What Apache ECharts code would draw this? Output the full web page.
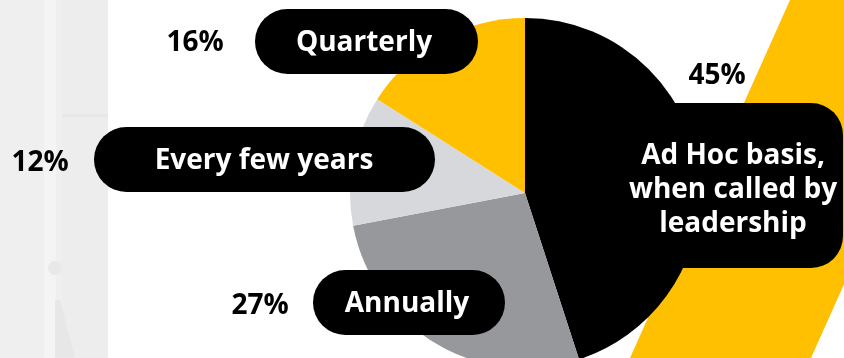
<!DOCTYPE html>
<html>
<head>
<meta charset="utf-8">
<style>
  html, body { margin: 0; padding: 0; background: #fff; }
  #chart { width: 844px; height: 358px; }
</style>
<script src="https://cdn.jsdelivr.net/npm/echarts@6/dist/echarts.min.js"></script>
</head>
<body>
<div id="chart"></div>
<script>
  // data
  var categories = ['Ad Hoc basis,\nwhen called by\nleadership', 'Annually', 'Every few years', 'Quarterly'];
  var values = [45, 27, 12, 16];
  var colors = ['#000000', '#97989b', '#d7d8db', '#fec000'];

  // where each pill / percentage sits
  var pills = {
    'Annually':        {x: 313, y: 270, w: 192, tx: 407, tyy: 304, px: 260, py: 306},
    'Every few years': {x: 94,  y: 127, w: 341, tx: 264, tyy: 161, px: 40,  py: 163},
    'Quarterly':       {x: 255, y: 9,   w: 223, tx: 364, tyy: 43,  px: 195, py: 43}
  };

  var font = 'bold 28px "Open Sans"';
  var chart = echarts.init(document.getElementById('chart'));

  var graphics = [
    // grey photo strip on the left
    {type: 'rect', z: -10, shape: {x: 0, y: 0, width: 108, height: 358}, style: {fill: '#efefef'}},
    {type: 'rect', z: -9, shape: {x: 44, y: 0, width: 12, height: 358}, style: {fill: '#f4f4f4'}},
    {type: 'rect', z: -9, shape: {x: 62, y: 0, width: 46, height: 358}, style: {fill: '#ededed'}},
    {type: 'rect', z: -8, shape: {x: 62, y: 114, width: 46, height: 3}, style: {fill: '#e7e7e7'}},
    {type: 'circle', z: -8, shape: {cx: 55, cy: 268, r: 7}, style: {fill: '#e8e8e8'}},
    {type: 'polygon', z: -8, shape: {points: [[55, 300], [60, 300], [75, 358], [55, 358]]}, style: {fill: '#e7e7e7'}},
    // yellow diagonal band behind the pie
    {type: 'polygon', z: -5, shape: {points: [[790, 0], [971, 0], [811, 358], [630, 358]]}, style: {fill: '#fec000'}},
    // box for the biggest slice
    {type: 'rect', z: 10, shape: {x: 600, y: 103, width: 243, height: 165, r: [0, 32, 32, 0]}, style: {fill: '#000'}},
    {type: 'text', z: 11, x: 733, y: 190, style: {
      text: categories[0], font: font, fill: '#fff', lineHeight: 34,
      textAlign: 'center', textVerticalAlign: 'middle'}},
    {type: 'text', z: 11, x: 717, y: 76, style: {
      text: values[0] + '%', font: font, fill: '#000',
      textAlign: 'center', textVerticalAlign: 'middle'}}
  ];

  for (var i = 1; i < categories.length; i++) {
    var p = pills[categories[i]];
    graphics.push(
      {type: 'rect', z: 10, shape: {x: p.x, y: p.y, width: p.w, height: 65, r: 32.5}, style: {fill: '#000'}},
      {type: 'text', z: 11, x: p.tx, y: p.tyy, style: {
        text: categories[i], font: font, fill: '#fff',
        textAlign: 'center', textVerticalAlign: 'middle'}},
      {type: 'text', z: 11, x: p.px, y: p.py, style: {
        text: values[i] + '%', font: font, fill: '#000',
        textAlign: 'center', textVerticalAlign: 'middle'}}
    );
  }

  var option = {
    animation: false,
    graphic: graphics,
    series: [{
      type: 'pie',
      z: 2,
      center: [525, 193],
      radius: 175,
      startAngle: 90,
      clockwise: true,
      label: {show: false},
      labelLine: {show: false},
      emphasis: {disabled: true},
      data: categories.map(function (c, i) {
        return {name: c, value: values[i], itemStyle: {color: colors[i]}};
      })
    }]
  };
  chart.setOption(option);
</script>
</body>
</html>
